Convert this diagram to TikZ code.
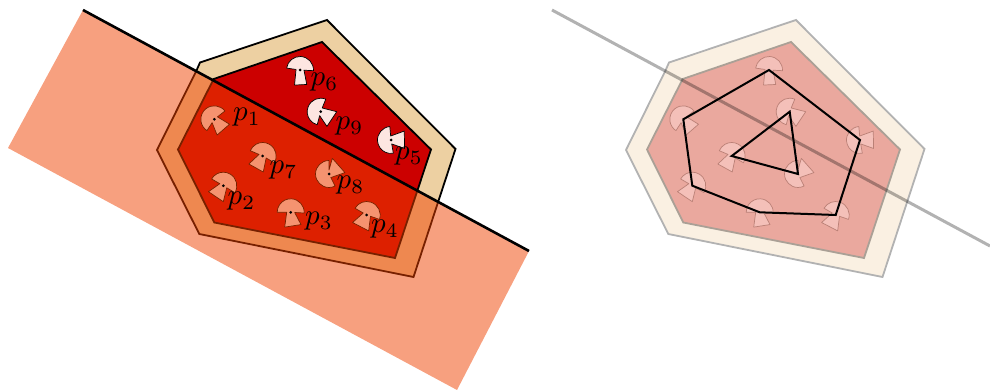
\documentclass[tikz,border=0pt]{standalone}
\usetikzlibrary{calc}
\definecolor{hulltan}{RGB}{237,208,162}
\definecolor{innerred}{RGB}{204,0,0}
\definecolor{planeor}{RGB}{239,65,0}
\definecolor{piewhite}{RGB}{253,230,225}
\definecolor{hullfade}{RGB}{250,240,226}
\definecolor{innerfade}{RGB}{234,168,158}
\definecolor{piefade}{RGB}{244,192,185}
\definecolor{edgefade}{RGB}{178,178,178}
\definecolor{inneredge}{RGB}{170,160,150}
\definecolor{pieedge}{RGB}{186,128,118}
\newcommand{\mypie}[6][pieleft]{%
  \begin{scope}[shift={(#2)}]
    \path[#1] (#3:4) -- (#3:13.5) arc[start angle=#3,end angle=#4,radius=13.5] -- (#4:4) -- (#5:16) -- (#6:16) -- cycle;
  \end{scope}}
\newcommand{\allpies}[1]{%
  \mypie[#1]{#1p1}{38}{237}{-80}{-18}
  \mypie[#1]{#1p2}{-31}{150}{202}{270}
  \mypie[#1]{#1p3}{-3}{180}{248}{310}
  \mypie[#1]{#1p4}{-19}{150}{208}{277}
  \mypie[#1]{#1p5}{95}{280}{-32}{34}
  \mypie[#1]{#1p6}{-3}{172}{250}{295}
  \mypie[#1]{#1p7}{-30}{157}{210}{272}
  \mypie[#1]{#1p8}{90}{297}{5}{78}
  \mypie[#1]{#1p9}{68}{255}{-67}{0}}
\tikzset{
  pieleft/.style={fill=piewhite,draw=black,line width=0.7pt,line join=round},
  pieright/.style={fill=piefade,draw=pieedge,line width=0.7pt,line join=round},
  seat/.style={circle,fill=black,inner sep=0pt,minimum size=3pt},
  plabel/.style={inner sep=0pt,scale=2.9},
  hullL/.style={fill=hulltan,draw=black,line width=1.8pt,line join=miter},
  innerL/.style={fill=innerred,draw=black,line width=1.8pt,line join=miter},
  halfplane/.style={fill=planeor,fill opacity=0.5},
  cutline/.style={draw=black,line width=2.6pt},
  hullR/.style={fill=hullfade,draw=edgefade,line width=1.8pt},
  innerR/.style={fill=innerfade,draw=inneredge,line width=1.8pt},
  cutlineR/.style={draw=black,draw opacity=0.3,line width=3pt},
  polyline/.style={draw=black,line width=2pt,line join=miter}
}
\begin{document}
\begin{tikzpicture}[x=1pt,y=1pt]
\useasboundingbox (0,0) rectangle (990,391);
% seat centres
\foreach \n/\x/\y in {1/214.3/271.7,2/223.3/205.3,3/290.7/178.7,4/366.7/176,5/391/251,6/300/321,7/262.7/235,8/329/217,9/320.7/279.3}{
  \coordinate (pieleftp\n) at (\x,\y);
  \coordinate (pierightp\n) at ({\x+469},\y);
}
% left
\path[hullL] (196.5,320.5) -- (200,328.5) -- (327,371) -- (455.5,242) -- (413.5,114) -- (199.3,157) -- (157,241) -- cycle;
\path[innerL] (213.7,312) -- (322,349) -- (431,241.5) -- (395,133) -- (214.3,168.5) -- (178,241.5) -- cycle;
\allpies{pieleft}
\coordinate (planeA) at (83,381);
\coordinate (planeB) at (529,140);
\path[halfplane] (planeA) -- (planeB) -- (457,1) -- (8,243) -- cycle;
\draw[cutline] (planeA) -- (planeB);
\foreach \n in {1,...,9}{\node[seat] (dot\n) at (pieleftp\n) {};}
\node[plabel] (l1) at (247,273.5) {$p_1$};
\node[plabel] (l2) at (241.5,189.5) {$p_2$};
\node[plabel] (l3) at (319,169.5) {$p_3$};
\node[plabel] (l4) at (385,161.5) {$p_4$};
\node[plabel] (l5) at (409,234.5) {$p_5$};
\node[plabel] (l6) at (324.5,308.5) {$p_6$};
\node[plabel] (l7) at (283.5,220.5) {$p_7$};
\node[plabel] (l8) at (350.5,205.5) {$p_8$};
\node[plabel] (l9) at (349.5,264.5) {$p_9$};
% right
\path[hullR] (665.5,320.5) -- (669,328.5) -- (796,371) -- (924.5,242) -- (882.5,114) -- (668.3,157) -- (626,241) -- cycle;
\path[innerR] (682.7,312) -- (791,349) -- (900,241.5) -- (864,133) -- (683.3,168.5) -- (647,241.5) -- cycle;
\allpies{pieright}
\coordinate (fadeA) at (552,381);
\coordinate (fadeB) at (990,145);
\draw[cutlineR] (fadeA) -- (fadeB);
\draw[polyline] (pierightp1) -- (pierightp6) -- (pierightp5) -- (pierightp4) -- (pierightp3) -- (pierightp2) -- cycle;
\draw[polyline] (pierightp9) -- (pierightp7) -- (pierightp8) -- cycle;
\end{tikzpicture}
\end{document}
